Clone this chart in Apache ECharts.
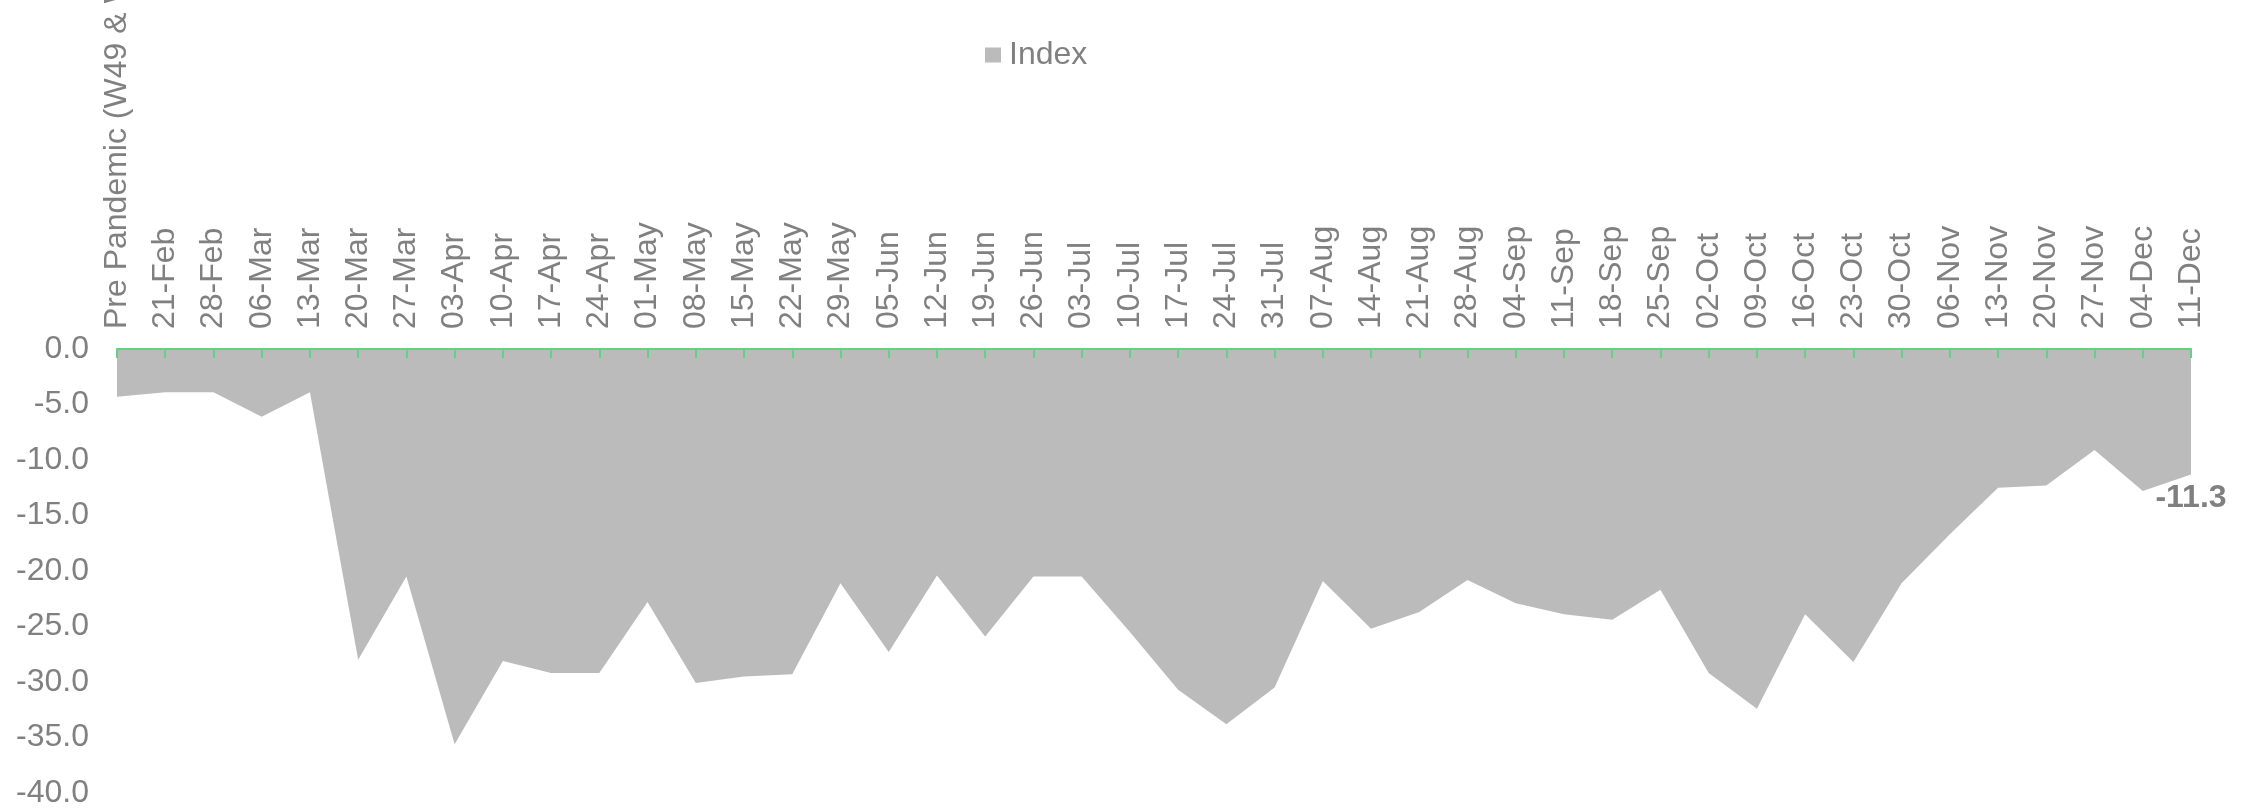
<!DOCTYPE html>
<html>
<head>
<meta charset="utf-8">
<title>Index</title>
<script src="https://cdn.jsdelivr.net/npm/echarts@6/dist/echarts.min.js"></script>
<style>
  html, body { margin: 0; padding: 0; background: #ffffff; }
  #main { width: 2254px; height: 811px; }
</style>
</head>
<body>
<div id="main"></div>
<script>
// categories (weeks)
var weeks = ['Pre Pandemic (W49 & W50 2019)', '21-Feb', '28-Feb', '06-Mar', '13-Mar', '20-Mar', '27-Mar',
    '03-Apr', '10-Apr', '17-Apr', '24-Apr', '01-May', '08-May', '15-May', '22-May', '29-May',
    '05-Jun', '12-Jun', '19-Jun', '26-Jun', '03-Jul', '10-Jul', '17-Jul', '24-Jul', '31-Jul',
    '07-Aug', '14-Aug', '21-Aug', '28-Aug', '04-Sep', '11-Sep', '18-Sep', '25-Sep',
    '02-Oct', '09-Oct', '16-Oct', '23-Oct', '30-Oct', '06-Nov', '13-Nov', '20-Nov', '27-Nov',
    '04-Dec', '11-Dec'];

// index values
var indexValues = [-4.3, -3.9, -3.9, -6.1, -3.9, -28.0, -20.5,
    -35.6, -28.1, -29.2, -29.2, -22.8, -30.1, -29.5, -29.3, -21.1,
    -27.3, -20.4, -25.9, -20.5, -20.5, -25.5, -30.7, -33.8, -30.5,
    -20.9, -25.2, -23.7, -20.8, -22.9, -23.9, -24.4, -21.7,
    -29.2, -32.4, -23.9, -28.2, -21.1, -16.7, -12.5, -12.3, -9.1,
    -12.8, -11.3];

// y axis range
var yMin = -40;
var yMax = 0;
var yStep = 5;

var grey = '#808080';
var green = '#5fd283';
var font = 'Liberation Sans, Arial, sans-serif';

var myChart = echarts.init(document.getElementById('main'));

// only the last point carries a label
var seriesData = indexValues.map(function (v, i) {
    if (i === indexValues.length - 1) {
        return {
            value: v,
            label: {
                show: true,
                position: 'bottom',
                distance: 8,
                formatter: function (p) { return p.value.toFixed(1); },
                color: grey,
                fontSize: 32,
                fontWeight: 'bold',
                fontFamily: font
            }
        };
    }
    return v;
});

var option = {
    animation: false,
    backgroundColor: '#ffffff',
    legend: {
        left: 980,
        top: 34,
        icon: 'rect',
        itemWidth: 16,
        itemHeight: 15,
        textStyle: {
            color: grey,
            fontSize: 32,
            fontFamily: font,
            padding: [0, 0, 0, 3]
        },
        data: ['Index']
    },
    grid: {
        left: 117,
        right: 63,
        top: 349,
        bottom: 18,
        containLabel: false,
        outerBoundsMode: 'none'
    },
    xAxis: {
        type: 'category',
        position: 'top',
        boundaryGap: false,
        data: weeks,
        z: 10,
        axisLine: {
            show: true,
            lineStyle: { color: green, width: 2 }
        },
        axisTick: {
            show: true,
            inside: true,
            length: 9,
            interval: 0,
            lineStyle: { color: green, width: 2 }
        },
        axisLabel: {
            interval: 0,
            rotate: 90,
            margin: 20,
            color: grey,
            fontSize: 32,
            fontFamily: font
        },
        splitLine: { show: false }
    },
    yAxis: {
        type: 'value',
        min: yMin,
        max: yMax,
        interval: yStep,
        axisLine: { show: false },
        axisTick: { show: false },
        splitLine: { show: false },
        axisLabel: {
            margin: 28,
            color: grey,
            fontSize: 32,
            fontFamily: font,
            formatter: function (v) { return v.toFixed(1); }
        }
    },
    series: [{
        name: 'Index',
        type: 'line',
        data: seriesData,
        symbol: 'circle',
        symbolSize: 0,
        showSymbol: true,
        lineStyle: { width: 0, color: '#bbbbbb' },
        itemStyle: { color: '#bbbbbb' },
        areaStyle: { color: '#bbbbbb', opacity: 1 },
        z: 1
    }]
};

myChart.setOption(option);
</script>
</body>
</html>
